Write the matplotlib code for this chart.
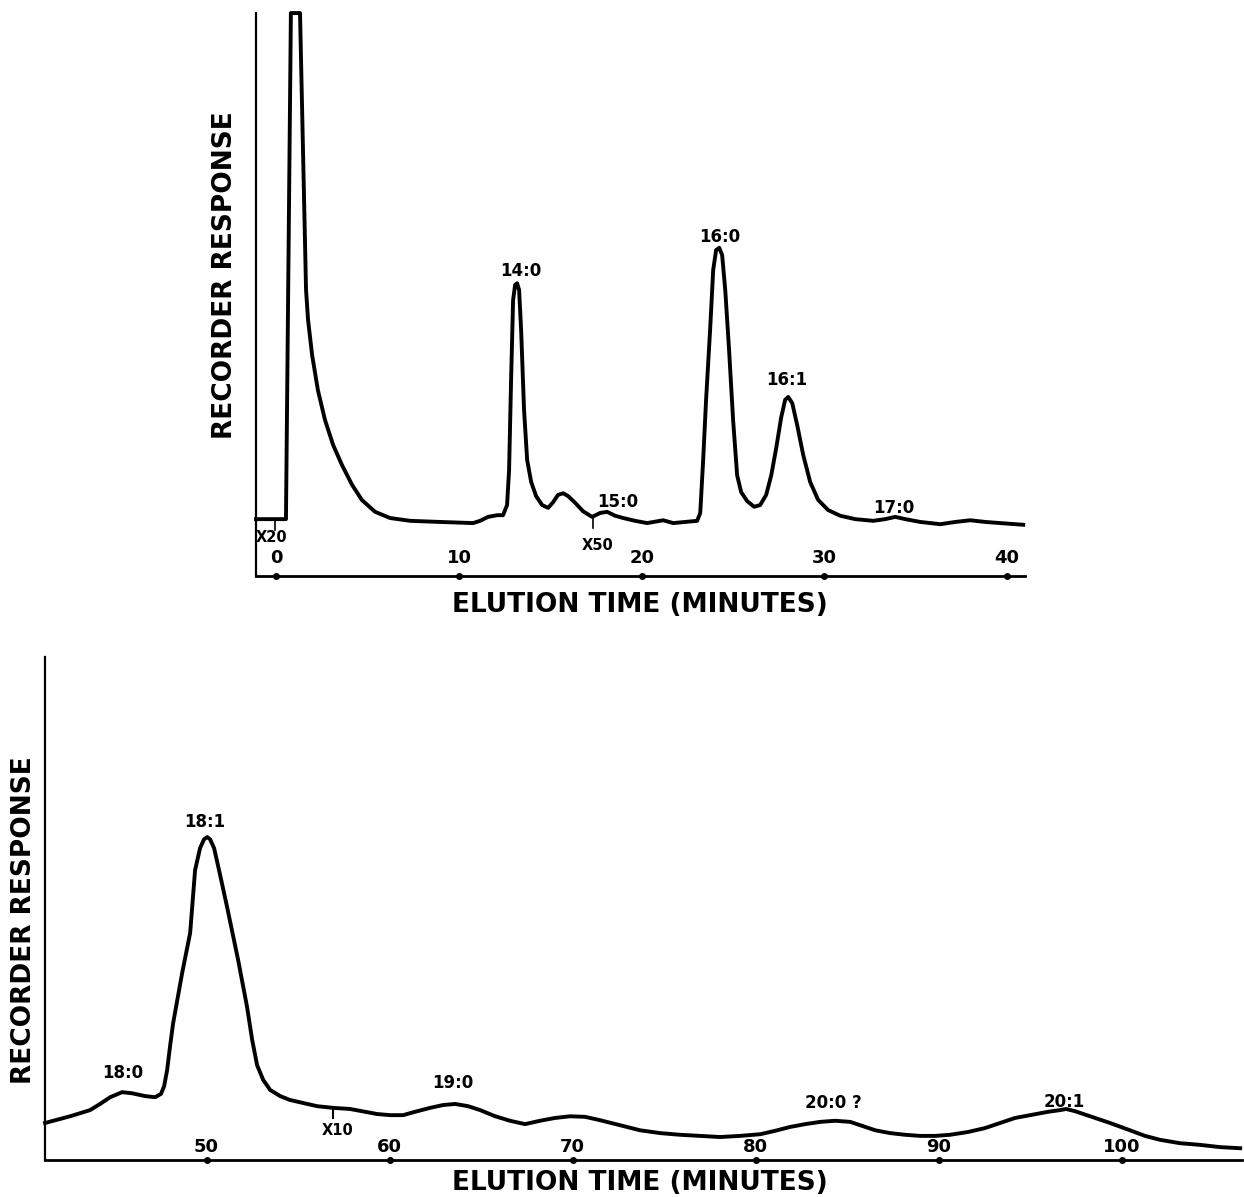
import matplotlib.pyplot as plt

# top chromatogram, 0-41 min (response in % of chart height)
t_top = [-1.12, 0.52, 0.79, 1.29, 1.62, 1.73, 1.95, 2.27, 2.66, 3.10, 3.59, 4.14,
         4.68, 5.40, 6.22, 7.32, 8.96, 10.77, 11.15, 11.59, 12.08, 12.41, 12.63,
         12.74, 12.85, 12.96, 13.07, 13.18, 13.29, 13.40, 13.56, 13.73, 13.95,
         14.22, 14.55, 14.88, 15.15, 15.42, 15.70, 15.97, 16.36, 16.79, 17.29,
         17.73, 18.11, 18.55, 18.99, 19.64, 20.30, 21.18, 21.73, 23.04, 23.21,
         23.37, 23.53, 23.75, 23.92, 24.08, 24.25, 24.41, 24.58, 24.79, 25.01,
         25.23, 25.45, 25.78, 26.16, 26.49, 26.82, 27.10, 27.37, 27.64, 27.86,
         28.03, 28.25, 28.52, 28.85, 29.23, 29.67, 30.22, 30.88, 31.70, 32.68,
         33.34, 33.89, 34.44, 35.26, 36.36, 37.18, 38.0, 38.82, 39.64, 40.9]
r_top = [10.1, 10.1, 100, 100, 50.8, 45.5, 39.3, 33.0, 27.7, 23.3, 19.7, 16.2,
         13.5, 11.4, 10.3, 9.8, 9.6, 9.4, 9.8, 10.5, 10.8, 10.8, 12.6,
         18.8, 34.8, 49.0, 51.7, 52.0, 50.8, 43.7, 29.5, 20.6, 16.7,
         14.2, 12.6, 12.1, 13.1, 14.4, 14.7, 14.2, 13.0, 11.5, 10.5,
         11.2, 11.4, 10.7, 10.3, 9.8, 9.4, 9.9, 9.4, 9.8, 11.2,
         20.6, 31.3, 43.7, 54.4, 57.9, 58.3, 57.0, 50.8, 40.1, 27.7,
         17.9, 14.9, 13.3, 12.3, 12.6, 14.4, 17.9, 22.7, 28.1, 31.3,
         31.8, 30.7, 26.8, 21.5, 16.7, 13.5, 11.7, 10.7, 10.1, 9.8,
         10.1, 10.5, 10.1, 9.6, 9.2, 9.6, 9.9, 9.6, 9.4, 9.1]

# bottom chromatogram, 41-107 min
t_bot = [41.17, 42.54, 43.63, 44.18, 44.73, 45.38, 45.93, 46.64, 47.19, 47.51,
         47.68, 47.84, 48.01, 48.17, 48.66, 49.10, 49.37, 49.64, 49.86, 50.03,
         50.19, 50.41, 50.74, 51.12, 51.72, 52.21, 52.49, 52.76, 53.09, 53.47,
         54.02, 54.56, 56.04, 56.91, 57.84, 58.66, 59.32, 60.03, 60.74, 61.39,
         62.21, 62.92, 63.58, 64.29, 64.95, 65.77, 66.58, 67.40, 68.22, 69.04,
         69.86, 70.68, 71.5, 72.60, 73.69, 74.78, 75.87, 76.97, 78.06, 79.15,
         80.25, 81.06, 81.89, 82.71, 83.53, 84.35, 85.17, 85.72, 86.54, 87.35,
         88.17, 89.0, 89.81, 90.63, 91.61, 92.54, 93.36, 94.18, 95.0, 95.98,
         96.64, 96.97, 97.46, 98.28, 99.37, 100.46, 101.28, 102.1, 103.19, 104.29,
         105.38, 106.48]
r_bot = [6.6, 7.8, 8.9, 10.0, 11.2, 12.1, 11.9, 11.4, 11.2, 11.8,
         13.2, 16.0, 20.5, 24.4, 33.3, 40.5, 51.7, 55.6, 57.2, 57.6,
         57.2, 55.6, 50.8, 45.1, 35.7, 27.3, 21.4, 16.9, 14.3, 12.5,
         11.4, 10.7, 9.6, 9.3, 9.1, 8.6, 8.2, 8.0, 8.0, 8.6,
         9.3, 9.8, 10.0, 9.6, 8.9, 7.8, 7.0, 6.4, 7.0, 7.5,
         7.8, 7.7, 7.1, 6.2, 5.3, 4.8, 4.5, 4.3, 4.1, 4.3,
         4.6, 5.2, 5.9, 6.4, 6.8, 7.0, 6.8, 6.2, 5.3, 4.8,
         4.5, 4.3, 4.3, 4.5, 5.0, 5.7, 6.6, 7.5, 8.0, 8.6,
         8.9, 9.1, 8.7, 7.8, 6.6, 5.3, 4.3, 3.6, 3.0, 2.7,
         2.3, 2.1]

ticks_top = [0, 10, 20, 30, 40]
ticks_bot = [50, 60, 70, 80, 90, 100]

peaks_top = ['14:0', '15:0', '16:0', '16:1', '17:0']
peaks_top_t = [13.4, 18.7, 24.3, 27.97, 33.8]
peaks_top_r = [54.2, 13.1, 60.3, 34.8, 12.0]

peaks_bot = ['18:0', '18:1', '19:0', '20:0 ?', '20:1']
peaks_bot_t = [45.44, 49.92, 63.47, 84.23, 96.86]
peaks_bot_r = [15.5, 60.2, 13.7, 10.2, 10.3]

# attenuation changes: label, time, response at curve, label x, label y
atten_top = [('X20', -0.08, 10.1, -0.25, 6.8), ('X50', 17.34, 10.5, 17.6, 5.5)]
atten_bot = [('X10', 56.91, 9.3, 57.13, 5.3)]

plt.rcParams['font.family'] = 'DejaVu Sans'
plt.rcParams['font.weight'] = 'bold'

fig = plt.figure(figsize=(12.44, 11.97), dpi=100)
ax1 = fig.add_axes([0.2058, 0.5188, 0.6182, 0.4703])
ax2 = fig.add_axes([0.0362, 0.0309, 0.9622, 0.4202])


def style(ax, ticks, xlim, ylim, pad):
    ax.set_xlim(*xlim)
    ax.set_ylim(*ylim)
    for s in ['top', 'right']:
        ax.spines[s].set_visible(False)
    ax.spines['left'].set_linewidth(1.6)
    ax.spines['bottom'].set_linewidth(2.0)
    ax.set_yticks([])
    ax.set_xticks(ticks)
    ax.set_xticklabels([str(t) for t in ticks])
    ax.tick_params(axis='x', length=0, pad=pad, labelsize=13)
    ax.plot(ticks, [0] * len(ticks), 'o', color='black', ms=4, clip_on=False)


style(ax1, ticks_top, (-1.12, 41.0), (0, 100), -19.5)
style(ax2, ticks_bot, (41.17, 106.58), (0, 89.7), -16)

ax1.plot(t_top, r_top, color='black', lw=2.8, solid_joinstyle='round', clip_on=False)
ax2.plot(t_bot, r_bot, color='black', lw=2.8, solid_joinstyle='round', clip_on=False)

for lab, x, y in zip(peaks_top, peaks_top_t, peaks_top_r):
    ax1.text(x, y, lab, ha='center', va='center', fontsize=12)
for lab, x, y in zip(peaks_bot, peaks_bot_t, peaks_bot_r):
    ax2.text(x, y, lab, ha='center', va='center', fontsize=12)

for lab, x, y, lx, ly in atten_top:
    ax1.plot([x, x], [y, y - 2.0], color='black', lw=1.2)
    ax1.text(lx, ly, lab, ha='center', va='center', fontsize=10.5)
for lab, x, y, lx, ly in atten_bot:
    ax2.plot([x, x], [y, y - 1.8], color='black', lw=1.5)
    ax2.text(lx, ly, lab, ha='center', va='center', fontsize=10.5)

fig.text(640 / 1244, 1 - 605 / 1197, 'ELUTION TIME (MINUTES)', ha='center', va='center',
         fontsize=19)
fig.text(640 / 1244, 1 - 1183 / 1197, 'ELUTION TIME (MINUTES)', ha='center', va='center',
         fontsize=19)
fig.text(225 / 1244, 1 - 275 / 1197, 'RECORDER RESPONSE', rotation=90, ha='center',
         va='center', fontsize=19)
fig.text(24 / 1244, 1 - 920 / 1197, 'RECORDER RESPONSE', rotation=90, ha='center',
         va='center', fontsize=19)

fig.savefig('out.png', dpi=100)
